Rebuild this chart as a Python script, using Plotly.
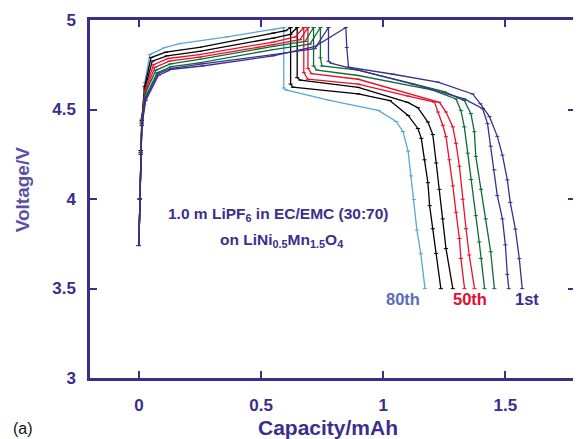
import plotly.graph_objects as go

# ---- data (capacity in mAh, voltage in V) ----
cycle_names = ["1st", "10th", "20th", "30th", "40th", "50th", "60th", "70th", "80th"]
cycle_colors = ["#3B2F8E", "#3B2F8E", "#0E6B35", "#0E6B35", "#E8102A", "#E8102A",
                "#000000", "#000000", "#5AA5DC"]

# charge branch
charge_cap = {
    "80th": [0.0, 0.004, 0.008, 0.012, 0.024, 0.045, 0.106, 0.167, 0.362, 0.55, 0.593],
    "70th": [0.0, 0.004, 0.008, 0.012, 0.024, 0.05, 0.11, 0.248, 0.55, 0.60, 0.621],
    "60th": [0.0, 0.004, 0.008, 0.012, 0.025, 0.055, 0.115, 0.248, 0.55, 0.62, 0.648],
    "50th": [0.0, 0.004, 0.008, 0.012, 0.025, 0.06, 0.12, 0.248, 0.55, 0.64, 0.675],
    "40th": [0.0, 0.004, 0.008, 0.012, 0.026, 0.065, 0.125, 0.248, 0.55, 0.66, 0.692],
    "30th": [0.0, 0.004, 0.008, 0.012, 0.026, 0.07, 0.13, 0.248, 0.55, 0.68, 0.715],
    "20th": [0.0, 0.004, 0.008, 0.012, 0.027, 0.075, 0.133, 0.248, 0.55, 0.70, 0.743],
    "10th": [0.0, 0.004, 0.008, 0.012, 0.027, 0.078, 0.133, 0.26, 0.55, 0.72, 0.776],
    "1st":  [0.0, 0.004, 0.008, 0.012, 0.028, 0.08, 0.135, 0.26, 0.55, 0.722, 0.847],
}
charge_v = {
    "80th": [3.74, 4.00, 4.27, 4.45, 4.65, 4.807, 4.846, 4.868, 4.906, 4.945, 4.958],
    "70th": [3.74, 4.00, 4.27, 4.44, 4.63, 4.79, 4.82, 4.847, 4.927, 4.94, 4.958],
    "60th": [3.74, 4.00, 4.27, 4.44, 4.62, 4.77, 4.80, 4.825, 4.899, 4.92, 4.958],
    "50th": [3.74, 4.00, 4.26, 4.43, 4.61, 4.75, 4.785, 4.807, 4.877, 4.905, 4.958],
    "40th": [3.74, 4.00, 4.26, 4.43, 4.60, 4.735, 4.77, 4.792, 4.862, 4.89, 4.958],
    "30th": [3.74, 4.00, 4.26, 4.42, 4.59, 4.72, 4.755, 4.78, 4.853, 4.88, 4.958],
    "20th": [3.74, 4.00, 4.25, 4.42, 4.57, 4.705, 4.74, 4.761, 4.835, 4.865, 4.958],
    "10th": [3.74, 4.00, 4.25, 4.41, 4.56, 4.70, 4.73, 4.755, 4.807, 4.84, 4.958],
    "1st":  [3.74, 4.00, 4.25, 4.41, 4.55, 4.69, 4.725, 4.743, 4.80, 4.853, 4.958],
}

# discharge branch
discharge_cap = {
    "80th": [0.593, 0.602, 0.78, 0.98, 1.053, 1.081, 1.102, 1.114, 1.126, 1.138, 1.154, 1.171],
    "70th": [0.621, 0.630, 0.898, 1.027, 1.102, 1.142, 1.156, 1.169, 1.183, 1.190, 1.203, 1.217, 1.236],
    "60th": [0.648, 0.661, 0.898, 1.10, 1.142, 1.183, 1.203, 1.217, 1.230, 1.244, 1.257, 1.285],
    "50th": [0.675, 0.692, 0.898, 1.102, 1.210, 1.224, 1.244, 1.257, 1.271, 1.285, 1.298, 1.312, 1.318, 1.333],
    "40th": [0.692, 0.707, 0.898, 1.230, 1.257, 1.285, 1.298, 1.312, 1.325, 1.339, 1.352, 1.374],
    "30th": [0.715, 0.729, 0.898, 1.20, 1.298, 1.318, 1.332, 1.346, 1.359, 1.379, 1.393, 1.400, 1.415],
    "20th": [0.743, 0.749, 0.898, 1.25, 1.332, 1.359, 1.373, 1.379, 1.400, 1.420, 1.440, 1.455],
    "10th": [0.776, 0.789, 1.122, 1.332, 1.407, 1.427, 1.440, 1.455, 1.467, 1.488, 1.500, 1.508, 1.514],
    "1st":  [0.851, 0.858, 1.041, 1.224, 1.366, 1.398, 1.435, 1.467, 1.488, 1.508, 1.520, 1.541, 1.557, 1.569],
}
discharge_v = {
    "80th": [4.62, 4.609, 4.551, 4.495, 4.433, 4.377, 4.267, 4.129, 3.997, 3.826, 3.694, 3.499],
    "70th": [4.642, 4.625, 4.587, 4.550, 4.467, 4.394, 4.339, 4.219, 4.091, 3.963, 3.834, 3.696, 3.499],
    "60th": [4.678, 4.664, 4.624, 4.54, 4.51, 4.43, 4.36, 4.201, 4.054, 3.889, 3.723, 3.499],
    "50th": [4.706, 4.669, 4.642, 4.575, 4.541, 4.486, 4.412, 4.348, 4.219, 4.073, 3.926, 3.779, 3.668, 3.499],
    "40th": [4.73, 4.70, 4.669, 4.54, 4.486, 4.403, 4.311, 4.183, 3.999, 3.834, 3.687, 3.499],
    "30th": [4.743, 4.72, 4.69, 4.61, 4.559, 4.495, 4.403, 4.256, 4.109, 3.907, 3.760, 3.668, 3.499],
    "20th": [4.789, 4.743, 4.72, 4.60, 4.55, 4.477, 4.376, 4.238, 4.054, 3.889, 3.705, 3.499],
    "10th": [4.769, 4.758, 4.642, 4.559, 4.504, 4.421, 4.295, 4.163, 4.019, 3.889, 3.744, 3.579, 3.499],
    "1st":  [4.846, 4.736, 4.697, 4.653, 4.587, 4.532, 4.460, 4.350, 4.245, 4.107, 3.981, 3.832, 3.667, 3.499],
}

x_ticks = [0, 0.5, 1, 1.5]
x_tick_text = ["0", "0.5", "1", "1.5"]
y_ticks = [3, 3.5, 4, 4.5, 5]
y_tick_text = ["3", "3.5", "4", "4.5", "5"]

cycle_labels = ["80th", "50th", "1st"]
cycle_label_cap = [1.081, 1.354, 1.589]
cycle_label_v = [3.44, 3.44, 3.44]
cycle_label_colors = ["#5B6DB8", "#E0102F", "#3B2F8E"]

AXIS = "#3C2D8C"
FONT = "Liberation Sans, Arial, sans-serif"

fig = go.Figure()
for name, color in zip(cycle_names[::-1], cycle_colors[::-1]):
    xs = charge_cap[name] + discharge_cap[name]
    ys = charge_v[name] + discharge_v[name]
    fig.add_trace(go.Scatter(
        x=xs, y=ys, mode="lines+markers", name=name,
        line=dict(color=color, width=1.3),
        marker=dict(symbol="line-ew", size=3, line=dict(color=color, width=1)),
        showlegend=False, hoverinfo="skip"))

for t, cx, cy, c in zip(cycle_labels, cycle_label_cap, cycle_label_v, cycle_label_colors):
    fig.add_annotation(x=cx, y=cy, xref="x", yref="y", text=t, showarrow=False,
                       xanchor="center", yanchor="middle",
                       font=dict(family=FONT, size=16.5, color=c, weight="bold"))

fig.add_annotation(x=0.573, y=3.915, xref="x", yref="y", showarrow=False,
                   xanchor="center", yanchor="middle",
                   text="1.0 m LiPF<sub>6</sub> in EC/EMC (30:70)",
                   font=dict(family=FONT, size=15.5, color="#3B2F8E", weight="bold"))
fig.add_annotation(x=0.585, y=3.77, xref="x", yref="y", showarrow=False,
                   xanchor="center", yanchor="middle",
                   text="on LiNi<sub>0.5</sub>Mn<sub>1.5</sub>O<sub>4</sub>",
                   font=dict(family=FONT, size=15.5, color="#3B2F8E", weight="bold"))

# axis titles and panel label (paper coordinates)
fig.add_annotation(x=-0.139, y=0.526, xref="paper", yref="paper", showarrow=False,
                   xanchor="center", yanchor="middle",
                   text="Voltage/V", textangle=-90,
                   font=dict(family=FONT, size=19, color="#5B52A3", weight="bold"))
fig.add_annotation(x=0.49, y=-0.137, xref="paper", yref="paper", showarrow=False,
                   xanchor="center", yanchor="middle",
                   text="Capacity/mAh",
                   font=dict(family=FONT, size=21, color="#3B2F8E", weight="bold"))
fig.add_annotation(x=-0.139, y=-0.14, xref="paper", yref="paper", showarrow=False,
                   xanchor="center", yanchor="middle",
                   text="(a)", font=dict(family=FONT, size=16, color="#111111"))

axis_common = dict(showline=True, linecolor=AXIS, linewidth=2.5, mirror="ticks",
                   ticks="inside", ticklen=7, tickwidth=2, tickcolor=AXIS,
                   showgrid=False, zeroline=False, ticklabeloverflow="allow",
                   tickfont=dict(family=FONT, size=17, color=AXIS, weight="bold"))

fig.update_xaxes(range=[-0.2, 1.785], tickvals=x_ticks, ticktext=x_tick_text,
                 ticklabelstandoff=10, **axis_common)
fig.update_yaxes(range=[3, 5], tickvals=y_ticks, ticktext=y_tick_text,
                 ticklabelstandoff=8, **axis_common)

# page body has an 8px default margin, so the figure is sized/offset accordingly
fig.update_layout(width=573, height=431, margin=dict(l=82, r=3, t=7, b=61),
                  plot_bgcolor="white", paper_bgcolor="white")

fig.write_html("out.html")
